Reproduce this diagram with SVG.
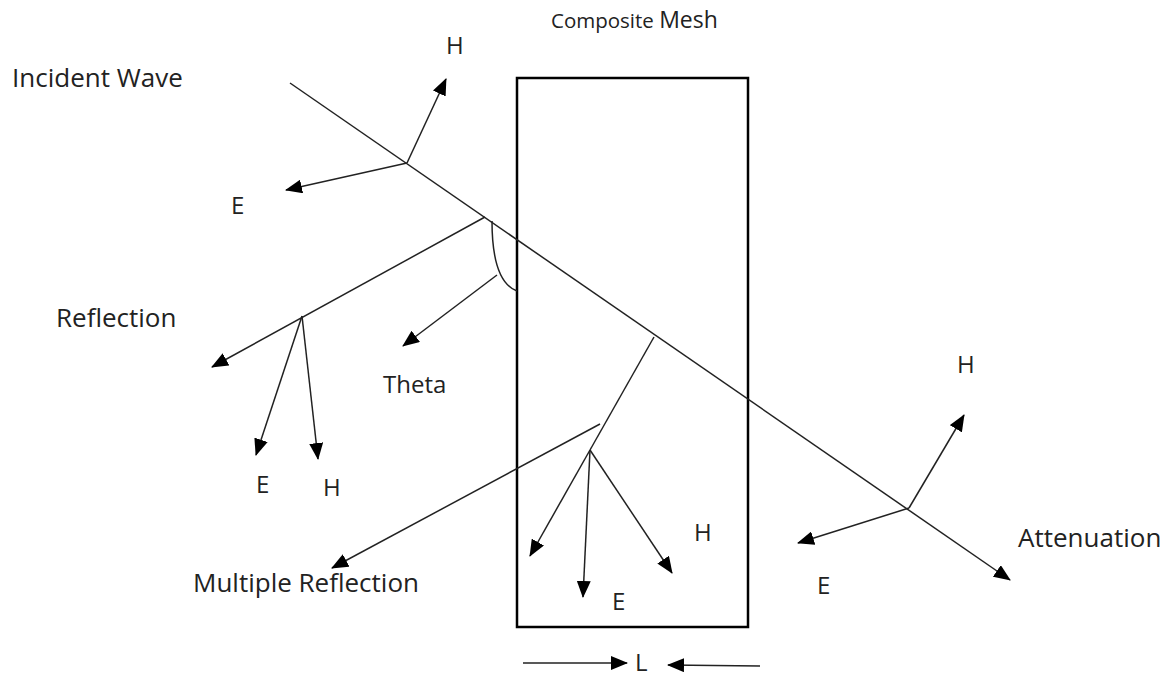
<svg xmlns="http://www.w3.org/2000/svg" width="1168" height="677" viewBox="0 0 1168 677">
<style>
  text { font-family: "Open Sans", "Noto Sans", sans-serif; font-size: 24px; fill: #222; }
  .big { font-size: 26px; }
  .comp { font-size: 20.5px; }
  .mesh { font-size: 23px; }
  .ln { stroke: #222; stroke-width: 1.5; fill: none; }
  .ar { stroke: #222; stroke-width: 1.5; fill: none; marker-end: url(#ah); }
  .box { stroke: #000; stroke-width: 2.5; fill: none; }
</style>
<defs>
  <marker id="ah" markerUnits="userSpaceOnUse" markerWidth="17" markerHeight="14" refX="16" refY="7" orient="auto">
    <path d="M0,0 L17,7 L0,14 Z" fill="#000"/>
  </marker>
</defs>
<rect width="1168" height="677" fill="#fff"/>

<g id="mesh">
  <rect class="box" x="517" y="78" width="231" height="549"/>
  <text class="comp" x="551" y="28">Composite <tspan class="mesh">Mesh</tspan></text>
</g>

<g id="connectors">
  <line class="ar" x1="290" y1="83" x2="1010" y2="580"/>
  <line class="ar" x1="407" y1="163" x2="446" y2="79"/>
  <line class="ar" x1="407" y1="163" x2="286" y2="190"/>
  <line class="ar" x1="485" y1="217" x2="212" y2="367"/>
  <line class="ar" x1="302" y1="316" x2="256" y2="455"/>
  <line class="ar" x1="302" y1="316" x2="318" y2="459"/>
  <line class="ar" x1="497" y1="275" x2="403" y2="346"/>
  <path class="ln" d="M492,221 C492,255 498,284 517,291"/>
  <line class="ln" x1="654" y1="337" x2="590" y2="450"/>
  <line class="ar" x1="600" y1="424" x2="332" y2="568"/>
  <line class="ar" x1="590" y1="450" x2="530" y2="556"/>
  <line class="ar" x1="590" y1="450" x2="583" y2="597"/>
  <line class="ar" x1="590" y1="450" x2="672" y2="573"/>
  <line class="ar" x1="909" y1="508" x2="964" y2="415"/>
  <line class="ar" x1="909" y1="508" x2="798" y2="543"/>
  <line class="ar" x1="523" y1="663" x2="627" y2="663"/>
  <line class="ar" x1="760" y1="666" x2="668" y2="665"/>
</g>

<g id="labels">
  <text class="big" x="12" y="87">Incident Wave</text>
  <text x="446" y="54">H</text>
  <text x="231" y="214">E</text>
  <text class="big" x="56" y="327">Reflection</text>
  <text x="383" y="393">Theta</text>
  <text x="256" y="493">E</text>
  <text x="323" y="496">H</text>
  <text class="big" x="193" y="592">Multiple Reflection</text>
  <text x="694" y="541">H</text>
  <text x="612" y="610">E</text>
  <text x="957" y="373">H</text>
  <text class="big" x="1018" y="547">Attenuation</text>
  <text x="817" y="594">E</text>
  <text x="635" y="671">L</text>
</g>
</svg>
